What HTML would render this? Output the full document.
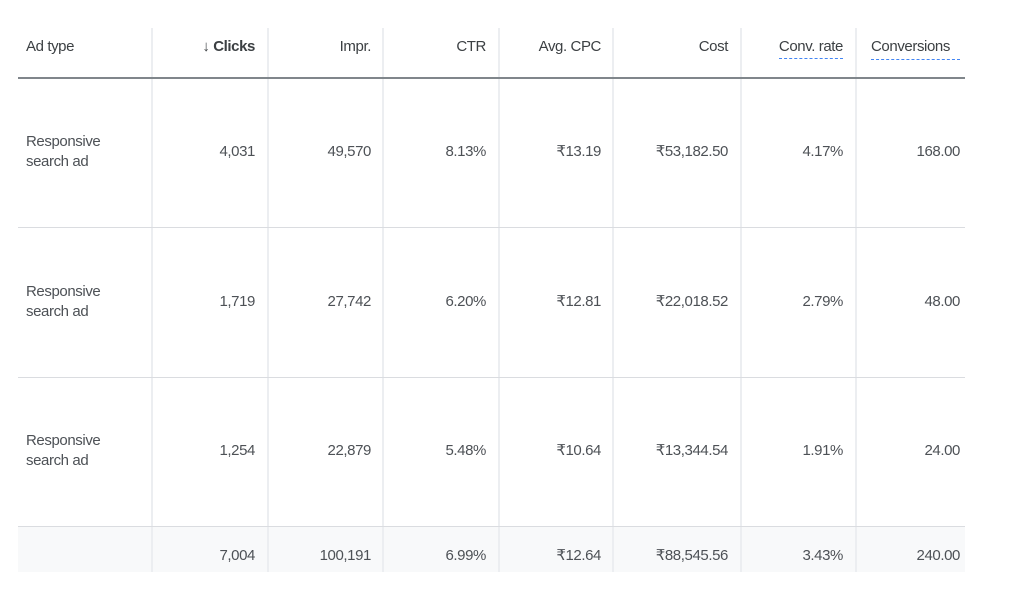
<!DOCTYPE html>
<html><head><meta charset="utf-8"><style>
body{margin:0;width:1024px;height:616px;background:#fff;position:relative;overflow:hidden;font-family:"Liberation Sans",sans-serif;}
.v{position:absolute;top:28px;height:544px;width:2px;background:#eceef1;}
.h{position:absolute;left:18px;width:947px;height:1px;background:#dadce0;}
.t{position:absolute;font-size:15px;color:#4d5156;white-space:nowrap;line-height:18px;letter-spacing:-0.4px;}
.r{text-align:right;}
.dash{border-bottom:1px dashed #4285f4;padding-bottom:3px;}
</style></head><body>
<div style="position:absolute;left:18px;top:527px;width:947px;height:45px;background:#f8f9fa"></div>
<div class="v" style="left:151px"></div><div class="v" style="left:267px"></div><div class="v" style="left:382px"></div><div class="v" style="left:498px"></div><div class="v" style="left:612px"></div><div class="v" style="left:740px"></div><div class="v" style="left:855px"></div>
<div class="h" style="top:77px;height:2px;background:#80868b"></div>
<div class="h" style="top:227px"></div><div class="h" style="top:377px"></div><div class="h" style="top:526px"></div>
<div id="c"></div>
<script>
var R=[255,371,486,601,728,843,960];
var H=["<b style='font-weight:bold;color:#3c4043'>↓ Clicks</b>","Impr.","CTR","Avg. CPC","Cost","<span class='dash'>Conv. rate</span>","<span class='dash' style='display:inline-block;width:89px;overflow:hidden;text-align:left;vertical-align:top'>Conversions</span>"];
var D=[["4,031","49,570","8.13%","₹13.19","₹53,182.50","4.17%","168.00"],["1,719","27,742","6.20%","₹12.81","₹22,018.52","2.79%","48.00"],["1,254","22,879","5.48%","₹10.64","₹13,344.54","1.91%","24.00"],["7,004","100,191","6.99%","₹12.64","₹88,545.56","3.43%","240.00"]];
var Y=[152,302,451,556],s="";
s+="<div class='t' style='left:26px;top:38px;color:#3c4043'>Ad type</div>";
H.forEach(function(h,i){s+="<div class='t r' style='right:"+(1024-R[i])+"px;top:38px;color:#3c4043'>"+h+"</div>";});
D.forEach(function(row,j){
 if(j<3)s+="<div class='t' style='left:26px;top:"+(Y[j]-20)+"px;line-height:20px'>Responsive<br>search ad</div>";
 row.forEach(function(v,i){s+="<div class='t r' style='right:"+(1024-R[i])+"px;top:"+(Y[j]-9)+"px'>"+v+"</div>";});
});
document.getElementById('c').innerHTML=s;
</script>
</body></html>
